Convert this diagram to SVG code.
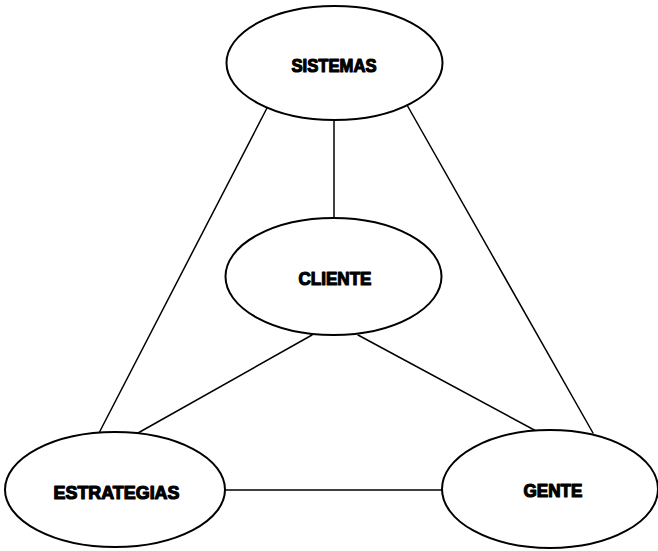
<svg xmlns="http://www.w3.org/2000/svg" width="658" height="551" viewBox="0 0 658 551">
  <style>
    .node ellipse { fill: #fff; stroke: #000; stroke-width: 2; }
    .node text { font-family: "Liberation Sans", Arial, sans-serif; font-weight: bold; font-size: 18.5px; fill: #000; stroke: #000; stroke-width: 1.2; stroke-linejoin: round; text-anchor: middle; }
    .links line { stroke: #000; stroke-width: 1.5; stroke-linecap: round; }
  </style>
  <rect width="658" height="551" fill="#fff"/>
  <g class="links">
    <line x1="334" y1="120" x2="334" y2="218"/>
    <line x1="267" y1="108" x2="99" y2="433"/>
    <line x1="407" y1="105" x2="593" y2="433"/>
    <line x1="312" y1="335" x2="138" y2="433"/>
    <line x1="358" y1="335" x2="538" y2="432"/>
    <line x1="225" y1="490" x2="443" y2="490"/>
  </g>
  <g id="sistemas" class="node">
    <ellipse cx="334.5" cy="63" rx="108" ry="57"/>
    <text x="334" y="71.5" textLength="85" lengthAdjust="spacingAndGlyphs">SISTEMAS</text>
  </g>
  <g id="cliente" class="node">
    <ellipse cx="333.5" cy="276.5" rx="108" ry="58.5"/>
    <text x="335" y="285" textLength="73" lengthAdjust="spacingAndGlyphs">CLIENTE</text>
  </g>
  <g id="estrategias" class="node">
    <ellipse cx="115" cy="489.5" rx="110" ry="57.5"/>
    <text x="116.5" y="499" textLength="126" lengthAdjust="spacingAndGlyphs">ESTRATEGIAS</text>
  </g>
  <g id="gente" class="node">
    <ellipse cx="550" cy="489" rx="108" ry="59"/>
    <text x="553" y="497" textLength="59" lengthAdjust="spacingAndGlyphs">GENTE</text>
  </g>
</svg>
